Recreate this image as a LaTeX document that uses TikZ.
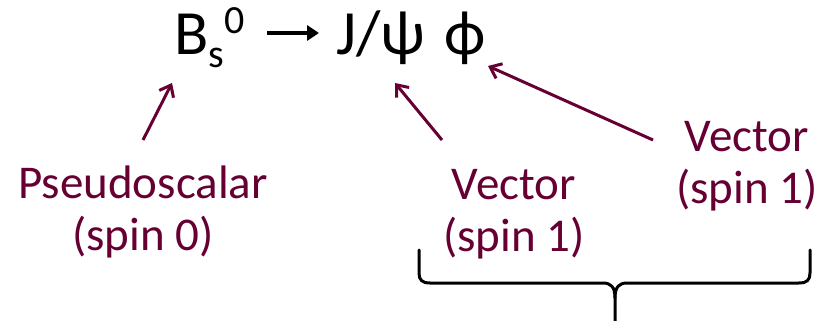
\documentclass[tikz,border=0pt]{standalone}
\usepackage{fontspec}
\setmainfont{Carlito}
\usetikzlibrary{arrows.meta}
\definecolor{maroon}{RGB}{102,0,51}
\begin{document}
\begin{tikzpicture}[x=1pt,y=-1pt,
  title/.style={inner sep=0pt,font=\fontsize{63}{70}\selectfont},
  script/.style={inner sep=0pt,font=\fontsize{40}{44}\selectfont},
  label/.style={inner sep=0pt,align=center,text=maroon,font=\fontsize{47}{52}\selectfont},
  ptr/.style={draw=maroon,line width=3pt,-{Straight Barb[length=10pt,width=16pt]}},
  brace/.style={draw=black,line width=3pt,line cap=round,line join=round}]
\useasboundingbox (0,0) rectangle (831,321);
% decay: B_s^0 -> J/psi phi
\node[title,anchor=base west] (b) at (174,55) {B};
\node[script,anchor=base west] (s) at (208,68) {s};
\node[script,anchor=base west] (zero) at (224,34) {0};
\node[title,anchor=base west] (jpsi) at (336,55) {J/ψ};
\node[title,anchor=base west] (phi) at (444,55) {ϕ};
\coordinate (arrowtail) at (267,33);
\coordinate (arrowhead) at (319,33);
\draw[line width=3.5pt,-{Triangle[length=12pt,width=15pt]}] (arrowtail) -- (arrowhead);
% spin labels
\node[label] (ps) at (143,212) {Pseudoscalar\\(spin 0)};
\node[label] (vmid) at (514,214) {Vector\\(spin 1)};
\node[label] (vright) at (747,166) {Vector\\(spin 1)};
\coordinate (bfoot) at (172,83);
\coordinate (jfoot) at (395,83);
\coordinate (phiside) at (488,66);
\draw[ptr] (143,140) -- (bfoot);
\draw[ptr] (442,140) -- (jfoot);
\draw[ptr] (653,140) -- (phiside);
% brace under the two vectors
\draw[brace] (419,250) -- (419,273) .. controls (419,280) and (422,283) .. (430,283)
  -- (603,283) .. controls (611,283) and (615,287) .. (615,298) -- (615,321);
\draw[brace] (810,250) -- (810,273) .. controls (810,280) and (807,283) .. (799,283)
  -- (627,283) .. controls (619,283) and (615,287) .. (615,298);
\end{tikzpicture}
\end{document}
